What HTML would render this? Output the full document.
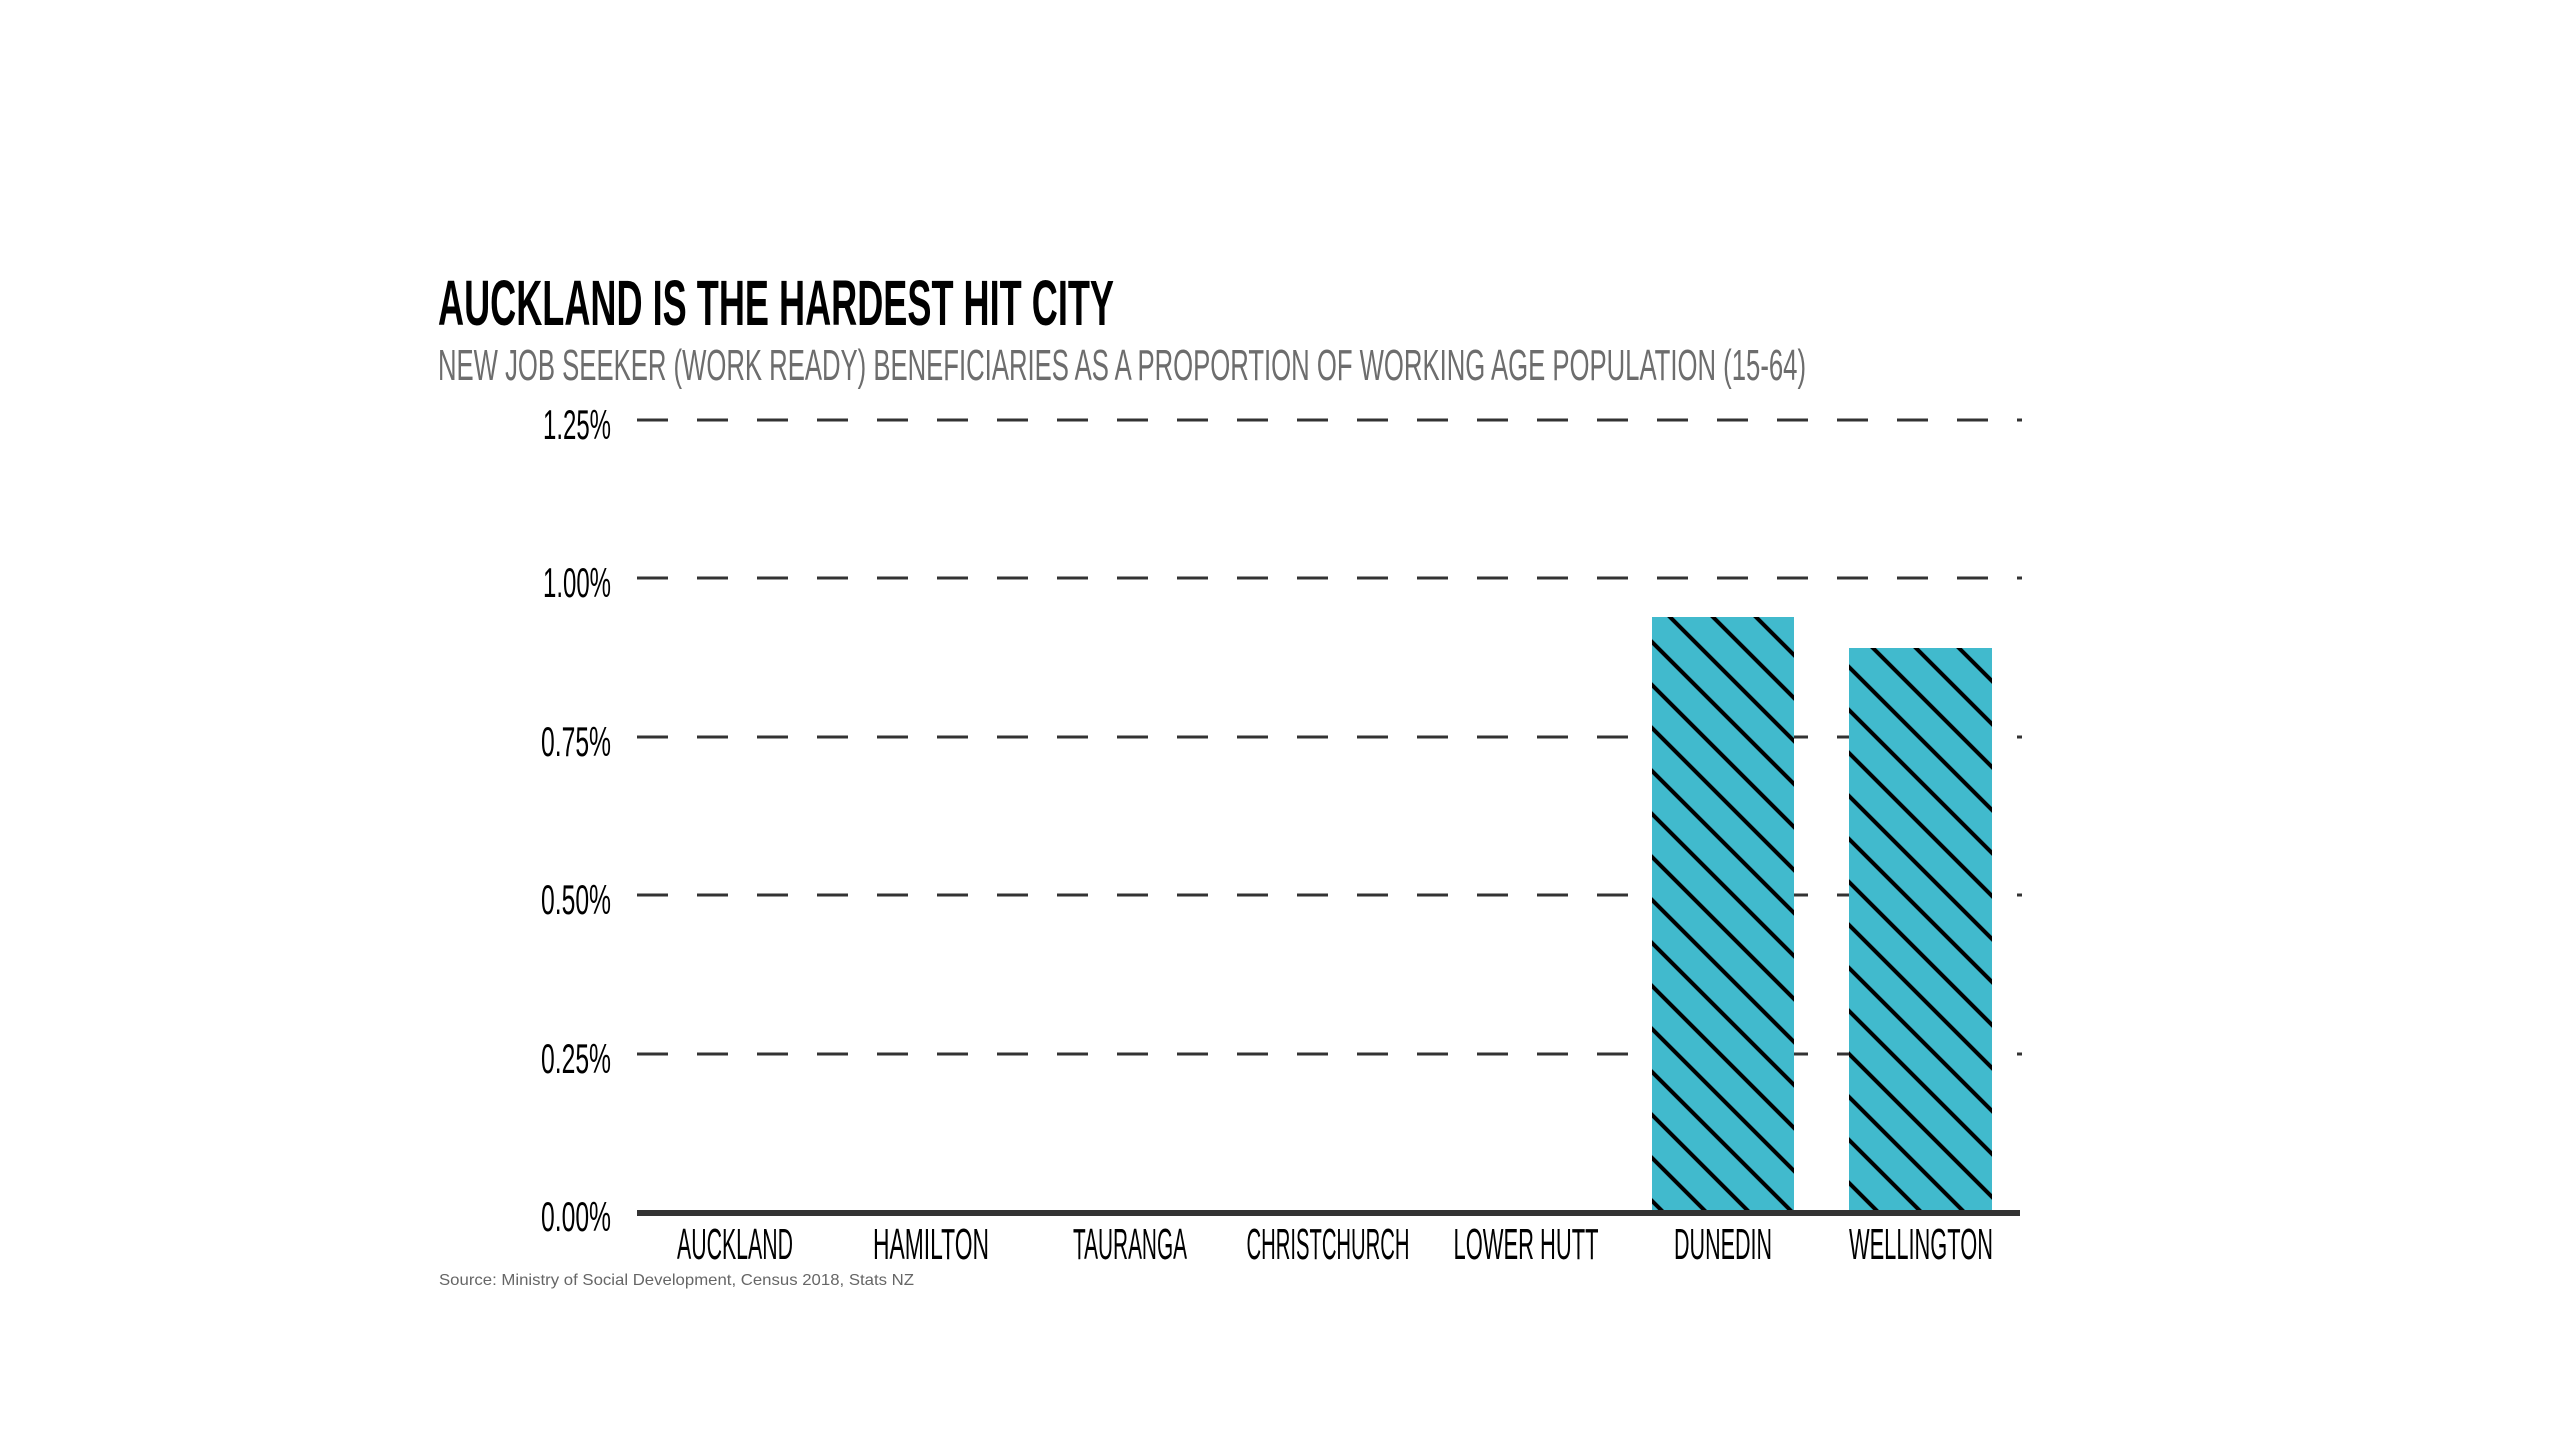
<!DOCTYPE html>
<html><head><meta charset="utf-8"><style>html,body{margin:0;padding:0;background:#fff;}svg{display:block}</style></head>
<body>
<svg width="2560" height="1440" viewBox="0 0 2560 1440" xmlns="http://www.w3.org/2000/svg">
<defs>
<pattern id="h" patternUnits="userSpaceOnUse" width="30.4" height="30.4" patternTransform="rotate(-45)">
<rect width="30.4" height="30.4" fill="#41bacd"/>
<line x1="15" y1="0" x2="15" y2="30.4" stroke="#000" stroke-width="4"/>
</pattern>
</defs>
<g font-family="'Liberation Sans Narrow','Liberation Sans',sans-serif">
<text x="438" y="325" font-size="64" font-weight="bold" fill="#000" textLength="676" lengthAdjust="spacingAndGlyphs">AUCKLAND IS THE HARDEST HIT CITY</text>
<text x="438" y="380" font-size="44" fill="#6d6d6d" textLength="1368" lengthAdjust="spacingAndGlyphs">NEW JOB SEEKER (WORK READY) BENEFICIARIES AS A PROPORTION OF WORKING AGE POPULATION (15-64)</text>
<g stroke="#333" stroke-width="3" stroke-dasharray="31 29">
<line x1="637" y1="420" x2="2022" y2="420"/>
<line x1="637" y1="578" x2="2022" y2="578"/>
<line x1="637" y1="737" x2="2022" y2="737"/>
<line x1="637" y1="895" x2="2022" y2="895"/>
<line x1="637" y1="1054" x2="2022" y2="1054"/>
</g>
<g font-size="42" fill="#000" text-anchor="end">
<text x="611" y="439" textLength="68" lengthAdjust="spacingAndGlyphs">1.25%</text>
<text x="611" y="597" textLength="68" lengthAdjust="spacingAndGlyphs">1.00%</text>
<text x="611" y="756" textLength="70" lengthAdjust="spacingAndGlyphs">0.75%</text>
<text x="611" y="914" textLength="70" lengthAdjust="spacingAndGlyphs">0.50%</text>
<text x="611" y="1073" textLength="70" lengthAdjust="spacingAndGlyphs">0.25%</text>
<text x="611" y="1231" textLength="70" lengthAdjust="spacingAndGlyphs">0.00%</text>
</g>
<rect x="1652" y="617" width="142" height="595" fill="url(#h)"/>
<rect x="1849" y="648" width="143" height="564" fill="url(#h)"/>
<line x1="637" y1="1213" x2="2020" y2="1213" stroke="#333" stroke-width="6"/>
<g font-size="44" fill="#000" text-anchor="middle">
<text x="735" y="1259" textLength="116" lengthAdjust="spacingAndGlyphs">AUCKLAND</text>
<text x="931" y="1259" textLength="116" lengthAdjust="spacingAndGlyphs">HAMILTON</text>
<text x="1130" y="1259" textLength="114" lengthAdjust="spacingAndGlyphs">TAURANGA</text>
<text x="1328" y="1259" textLength="163" lengthAdjust="spacingAndGlyphs">CHRISTCHURCH</text>
<text x="1526" y="1259" textLength="145" lengthAdjust="spacingAndGlyphs">LOWER HUTT</text>
<text x="1723" y="1259" textLength="98" lengthAdjust="spacingAndGlyphs">DUNEDIN</text>
<text x="1921" y="1259" textLength="144" lengthAdjust="spacingAndGlyphs">WELLINGTON</text>
</g>
<text x="439" y="1285" font-family="'Liberation Sans',sans-serif" font-size="16" fill="#666" textLength="475" lengthAdjust="spacingAndGlyphs">Source: Ministry of Social Development, Census 2018, Stats NZ</text>
</g>
</svg>
</body></html>
